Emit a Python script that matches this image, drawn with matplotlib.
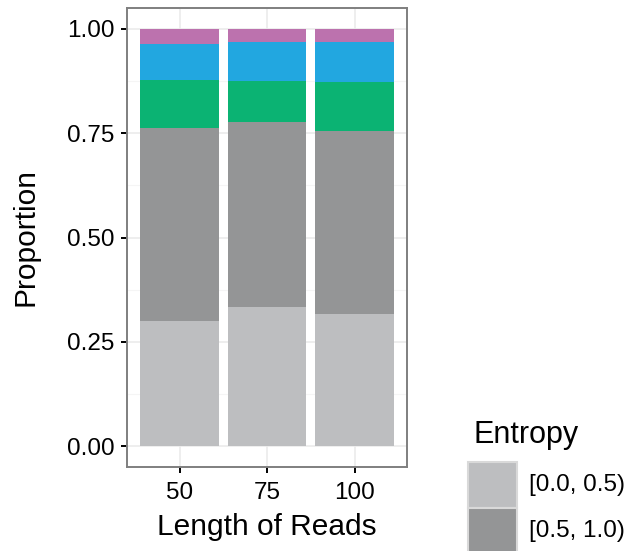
import numpy as np
import matplotlib
matplotlib.use('Agg')
import matplotlib.pyplot as plt
from matplotlib.patches import Rectangle

plt.rcParams['font.family'] = ['Liberation Sans', 'DejaVu Sans']

# Read lengths and proportion of reads in each entropy bin (bottom to top)
read_lengths = ['50', '75', '100']
entropy_bins = ['[0.0, 0.5)', '[0.5, 1.0)', '[1.0, 1.5)', '[1.5, 2.0)', '[2.0, 2.5)']
proportions = [
    [0.300, 0.333, 0.317],   # [0.0, 0.5)
    [0.463, 0.444, 0.438],   # [0.5, 1.0)
    [0.115, 0.098, 0.118],   # [1.0, 1.5)
    [0.085, 0.093, 0.095],   # [1.5, 2.0)
    [0.037, 0.032, 0.032],   # [2.0, 2.5)
]
bin_colors = ['#BDBEC0', '#949596', '#0BB373', '#22A7E0', '#BC72AE']
legend_shown = 2  # only the first entries fit inside the canvas

W, H = 634, 551
fig = plt.figure(figsize=(W / 100, H / 100), dpi=100)
ax = fig.add_axes([127 / W, 1 - 467 / H, 280 / W, 459 / H])

x = np.arange(len(read_lengths))
bottom = np.zeros(len(read_lengths))
for vals, col in zip(proportions, bin_colors):
    vals = np.array(vals)
    ax.bar(x, vals, width=0.9, bottom=bottom, color=col, linewidth=0, zorder=2)
    bottom += vals

ax.set_xlim(-0.6, len(read_lengths) - 0.4)
ax.set_ylim(-0.05, 1.05)
ax.set_xticks(x)
ax.set_xticklabels(read_lengths)
ax.set_yticks([0, 0.25, 0.5, 0.75, 1.0])
ax.set_yticklabels(['0.00', '0.25', '0.50', '0.75', '1.00'])
ax.set_yticks([0.125, 0.375, 0.625, 0.875], minor=True)

# theme_bw style grid and border
ax.set_axisbelow(True)
ax.grid(True, which='major', color='#EBEBEB', linewidth=1.2, zorder=0)
ax.grid(True, which='minor', axis='y', color='#F5F5F5', linewidth=0.8, zorder=0)
for s in ax.spines.values():
    s.set_color('#7F7F7F')
    s.set_linewidth(1.4)
ax.tick_params(which='major', length=4, width=1.4, color='black',
               labelsize=17.5, labelcolor='black')
ax.tick_params(axis='y', pad=5)
ax.tick_params(axis='x', pad=7)
ax.tick_params(which='minor', length=0)

ax.set_xlabel('Length of Reads', fontsize=21.5, labelpad=6)
ax.set_ylabel('Proportion', fontsize=21.5, labelpad=20)

# legend drawn by hand so that it runs off the bottom edge
fig.text(473 / W, 1 - 435 / H, 'Entropy', fontsize=22, va='center', ha='left')
key_size = 46
for i in range(legend_shown):
    top = 462 + i * key_size
    fig.add_artist(Rectangle((468 / W, 1 - (top + key_size) / H), 49 / W, key_size / H,
                             transform=fig.transFigure, facecolor=bin_colors[i],
                             edgecolor='#D9D9D9', linewidth=1.5))
    fig.text(529 / W, 1 - (top + key_size / 2) / H, entropy_bins[i],
             fontsize=17.5, va='center', ha='left')

fig.savefig('out.png', dpi=100)
